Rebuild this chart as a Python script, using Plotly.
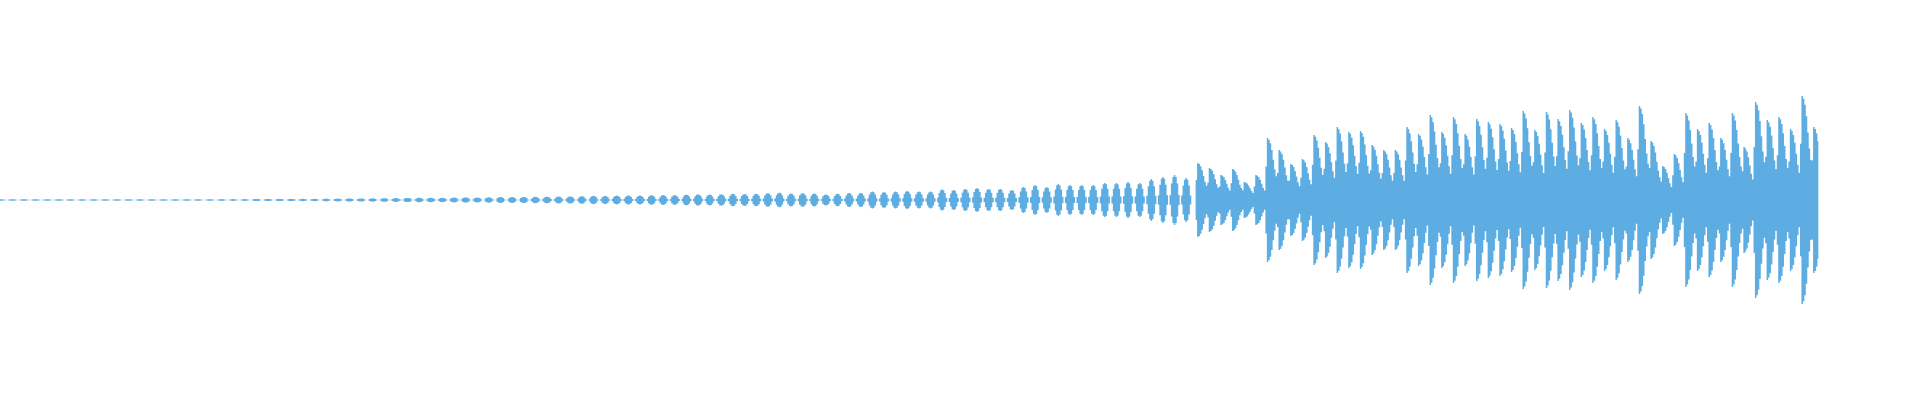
import numpy as np
import plotly.graph_objects as go

# ---- data (amplitude in % of full scale, one value per note) ----
note_peaks = [
    0.40, 0.40, 0.40, 0.40, 0.40, 0.40, 0.40, 0.40, 0.40, 0.40,
    0.40, 0.40, 0.40, 0.40, 0.40, 0.40, 0.42, 0.42, 0.43, 0.44,
    0.45, 0.46, 0.48, 0.50, 0.52, 0.55, 0.60, 0.60, 0.65, 0.70,
    0.75, 0.80, 0.85, 0.90, 1.00, 1.05, 1.10, 1.15, 1.15, 1.25,
    1.30, 1.25, 1.40, 1.45, 1.50, 1.50, 1.60, 1.65, 1.75, 1.80,
    1.90, 2.10, 2.00, 2.20, 2.30, 2.20, 2.40, 2.50, 2.40, 2.65,
    2.80, 2.70, 2.90, 3.10, 3.00, 3.15, 3.40, 3.65, 3.25, 3.35,
    3.25, 2.75, 3.10, 3.50, 3.50, 4.25, 4.00, 4.25, 4.50, 4.25,
    4.25, 5.25, 5.00, 5.50, 6.00, 5.50, 5.50, 5.00, 6.50, 7.50,
    6.50, 8.00, 7.50, 7.50, 7.50, 8.50, 8.50, 9.00, 8.50, 10.5,
    11.5, 12.5, 11.0, 18.5, 16.0, 12.5, 15.5, 9.0, 12.5, 31.0,
    25.0, 18.0, 20.5, 32.5, 29.0, 36.5, 34.0, 34.5, 27.5, 25.0,
    25.0, 36.5, 33.0, 42.5, 34.0, 41.5, 33.0, 40.5, 39.0, 38.0,
    36.0, 44.5, 35.0, 44.0, 40.5, 45.0, 38.5, 41.5, 35.5, 40.0,
    31.0, 47.0, 29.5, 17.0, 23.0, 43.5, 35.5, 38.5, 31.0, 43.5,
    26.5, 49.0, 40.0, 41.5, 35.5, 52.0, 36.5,
]

# note envelope shapes (offset from note peak in beats, relative level)
soft_offsets = [-0.42, -0.32, -0.22, -0.12, 0.0, 0.12, 0.22, 0.32, 0.42]
soft_levels = [0.0, 0.45, 0.75, 0.93, 1.0, 0.93, 0.75, 0.45, 0.0]
hard_offsets = [-0.16, -0.08, 0.0, 0.1, 0.2, 0.3, 0.4, 0.5, 0.6, 0.7, 0.8, 0.9, 1.0, 1.1]
hard_levels = [0.3, 0.85, 1.0, 0.98, 0.95, 0.88, 0.78, 0.65, 0.52, 0.42, 0.35, 0.3, 0.27, 0.0]
hard_from_note = 103

audio_end_beat = 156.45
view_end_beat = 165.2
columns_per_beat = 8

# ---- build the envelope (one value per drawn column) ----
t = np.arange(0, audio_end_beat + 1e-9, 1.0 / columns_per_beat)
env = np.zeros_like(t)
for k, peak in enumerate(note_peaks):
    if k >= hard_from_note:
        offs, levs = hard_offsets, hard_levels
    else:
        offs, levs = soft_offsets, soft_levels
    rel = t - k
    mask = (rel >= offs[0]) & (rel <= offs[-1])
    if mask.any():
        vals = np.interp(rel[mask], offs, levs) * peak
        env[mask] = np.maximum(env[mask], vals)

# close the last column at the end of the audio
t_full = np.append(t, audio_end_beat)
env_full = np.append(env, env[-1])

fig = go.Figure()
fig.add_trace(go.Scatter(
    x=t_full, y=env_full, mode="lines", line_shape="hv",
    line=dict(width=0, color="#5DADE2"),
    hoverinfo="skip", showlegend=False,
))
fig.add_trace(go.Scatter(
    x=t_full, y=-env_full, mode="lines", line_shape="hv",
    fill="tonexty", fillcolor="#5DADE2",
    line=dict(width=0, color="#5DADE2"),
    hoverinfo="skip", showlegend=False,
))
fig.update_layout(
    width=1920, height=400,
    margin=dict(l=0, r=0, t=0, b=0),
    paper_bgcolor="white", plot_bgcolor="white",
    xaxis=dict(range=[0, view_end_beat], visible=False, fixedrange=True),
    yaxis=dict(range=[-100, 100], visible=False, fixedrange=True),
)
fig.write_html(
    "out.html",
    config={"displayModeBar": False},
    post_script="document.body.style.margin='0';document.body.style.overflow='hidden';",
)
